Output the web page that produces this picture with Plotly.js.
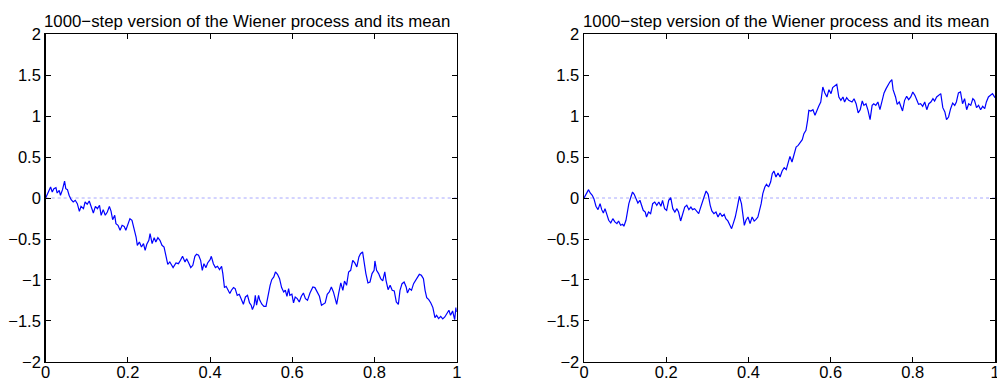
<!DOCTYPE html>
<html><head><meta charset="utf-8">
<script src="https://cdn.plot.ly/plotly-3.0.1.min.js"></script>
<style>html,body{margin:0;padding:0;background:#fff}#g{width:997px;height:380px}</style>
</head><body><div id="g"></div>
<script>
const titleText = "1000\u2212step version of the Wiener process and its mean";
const meanT = [0, 1];
const meanV = [0, 0];
const xTicks = [0, 0.2, 0.4, 0.6, 0.8, 1];
const yTicks = [-2, -1.5, -1, -0.5, 0, 0.5, 1, 1.5, 2];

const leftT = [0,0.006,0.012,0.016,0.020,0.025,0.028,0.033,0.036,0.041,0.046,0.049,0.053,0.057,0.062,0.067,0.072,0.077,0.082,0.086,0.092,0.096,0.101,0.106,0.111,0.116,0.121,0.126,0.131,0.135,0.140,0.145,0.150,0.155,0.159,0.163,0.168,0.171,0.176,0.181,0.186,0.191,0.195,0.200,0.205,0.210,0.215,0.220,0.223,0.228,0.233,0.238,0.242,0.246,0.251,0.254,0.259,0.264,0.268,0.273,0.278,0.283,0.288,0.293,0.297,
0.302,0.310,0.317,0.323,0.328,0.333,0.339,0.343,0.348,0.353,0.358,0.363,0.367,0.372,0.377,0.381,0.385,0.390,0.394,0.400,0.403,0.408,0.413,0.418,0.423,0.428,0.431,0.435,0.439,0.444,0.448,0.452,0.457,0.461,0.466,0.471,0.476,0.481,0.486,0.491,0.496,0.500,0.503,0.507,0.510,0.513,0.518,0.521,0.526,0.531,0.536,0.541,0.546,0.550,0.555,0.559,0.564,0.569,0.574,0.579,0.583,0.587,0.591,0.594,0.599,0.603,0.607,0.612,0.617,0.622,0.627,0.632,0.637,
0.643,0.650,0.655,0.661,0.666,0.671,0.676,0.680,0.685,0.690,0.695,0.700,0.705,0.708,0.713,0.718,0.723,0.727,0.732,0.737,0.742,0.747,0.752,0.757,0.762,0.766,0.771,0.775,0.779,0.784,0.789,0.794,0.799,0.801,0.805,0.810,0.815,0.820,0.825,0.828,0.833,0.838,0.843,0.848,0.853,0.858,0.862,0.867,0.872,0.877,0.880,0.885,0.890,0.895,0.900,0.904,0.909,0.914,0.919,0.923,0.927,0.932,0.937,0.942,0.947,0.951,0.956,0.961,0.966,0.971,0.976,0.981,0.985,0.990,0.995,0.998,1.0];
const leftV = [0,0.061,0.134,0.073,0.114,0.126,0.061,0.094,0.033,0.102,0.207,0.114,0.102,0.033,-0.020,-0.048,-0.028,-0.069,-0.163,-0.102,-0.130,-0.048,-0.077,-0.036,-0.118,-0.183,-0.102,-0.130,-0.089,-0.211,-0.142,-0.211,-0.171,-0.102,-0.159,-0.264,-0.211,-0.313,-0.333,-0.394,-0.333,-0.346,-0.394,-0.313,-0.252,-0.272,-0.374,-0.476,-0.577,-0.537,-0.598,-0.557,-0.638,-0.565,-0.516,-0.435,-0.557,-0.484,-0.537,-0.484,-0.516,-0.577,-0.598,-0.720,-0.809,
-0.780,-0.849,-0.792,-0.801,-0.760,-0.711,-0.780,-0.740,-0.792,-0.849,-0.821,-0.711,-0.687,-0.699,-0.760,-0.882,-0.801,-0.849,-0.792,-0.752,-0.711,-0.801,-0.849,-0.833,-0.874,-0.833,-0.922,-1.093,-1.077,-1.125,-1.166,-1.125,-1.093,-1.105,-1.187,-1.174,-1.227,-1.296,-1.207,-1.187,-1.280,-1.308,-1.361,-1.308,-1.187,-1.308,-1.187,-1.248,-1.296,-1.321,-1.321,-1.166,-1.065,-0.996,-0.963,-0.902,-0.931,-0.984,-1.093,-1.146,-1.125,-1.199,-1.105,-1.187,-1.174,-1.280,-1.207,-1.227,-1.268,-1.199,-1.158,-1.227,-1.248,
-1.159,-1.085,-1.093,-1.146,-1.199,-1.309,-1.288,-1.280,-1.174,-1.146,-1.085,-1.146,-1.240,-1.297,-1.158,-1.036,-1.126,-1.012,-1.065,-0.902,-0.882,-0.760,-0.792,-0.841,-0.719,-0.679,-0.658,-0.801,-0.922,-1.036,-1.024,-0.922,-0.882,-0.768,-0.882,-0.922,-0.983,-1.012,-0.902,-1.004,-1.118,-1.065,-1.126,-1.134,-1.268,-1.297,-1.126,-1.045,-1.024,-1.085,-1.158,-1.105,-1.126,-1.045,-1.004,-0.971,-0.931,-0.943,-0.983,-1.126,-1.215,-1.240,-1.280,-1.337,-1.459,-1.431,-1.471,-1.443,-1.475,-1.451,-1.410,-1.369,-1.431,-1.378,-1.484,-1.337,-1.39];

const rightT = [0,0.0065,0.011,0.015,0.020,0.024,0.029,0.034,0.039,0.043,0.047,0.051,0.056,0.060,0.065,0.070,0.075,0.080,0.084,0.089,0.094,0.097,0.102,0.106,0.109,0.114,0.118,0.122,0.127,0.131,0.136,0.140,0.144,0.149,0.152,0.157,0.162,0.167,0.172,0.177,0.182,0.187,0.191,0.196,0.201,0.206,0.211,0.216,0.221,0.226,0.230,0.235,0.240,0.245,0.250,0.255,0.260,0.264,0.269,0.274,0.279,
0.282,0.287,0.292,0.297,0.302,0.307,0.311,0.316,0.321,0.326,0.331,0.336,0.341,0.345,0.350,0.355,0.359,0.363,0.368,0.373,0.378,0.383,0.386,0.390,0.394,0.399,0.404,0.409,0.414,0.418,0.423,0.428,0.431,0.435,0.440,0.444,0.449,0.454,0.458,0.462,0.467,0.472,0.477,0.482,0.487,0.492,0.496,0.501,0.506,0.511,0.516,0.521,0.526,0.531,0.535,0.540,0.544,0.547,0.552,0.557,0.562,0.567,0.571,0.576,0.581,0.586,0.591,0.596,0.601,0.605,0.610,0.615,0.620,0.625,0.630,0.634,0.639,0.644,
0.652,0.657,0.662,0.667,0.672,0.677,0.681,0.686,0.691,0.696,0.701,0.705,0.710,0.715,0.720,0.725,0.730,0.735,0.740,0.744,0.749,0.752,0.758,0.762,0.767,0.772,0.775,0.780,0.785,0.790,0.795,0.800,0.805,0.810,0.814,0.819,0.824,0.829,0.834,0.839,0.844,0.849,0.853,0.858,0.863,0.868,0.873,0.878,0.882,0.887,0.892,0.897,0.902,0.906,0.911,0.916,0.921,0.926,0.931,0.936,0.941,0.946,0.950,0.955,0.960,0.965,0.970,0.975,0.979,0.984,0.989,0.994,1.0];
const rightV = [0,0.061,0.102,0.061,0.033,-0.008,-0.101,-0.142,-0.069,-0.142,-0.183,-0.130,-0.211,-0.272,-0.304,-0.252,-0.292,-0.313,-0.280,-0.333,-0.321,-0.345,-0.272,-0.142,-0.069,0.012,0.073,0.045,-0.028,-0.061,-0.028,-0.089,-0.150,-0.171,-0.232,-0.171,-0.191,-0.069,-0.049,-0.089,-0.049,-0.101,-0.028,-0.130,-0.150,-0.028,0.004,-0.130,-0.171,-0.130,-0.171,-0.280,-0.191,-0.110,-0.089,-0.142,-0.110,-0.142,-0.130,-0.159,-0.191,
-0.142,-0.077,0.012,0.085,0.045,-0.089,-0.158,-0.191,-0.171,-0.232,-0.183,-0.224,-0.199,-0.252,-0.280,-0.333,-0.374,-0.313,-0.232,-0.110,0.020,-0.069,-0.191,-0.333,-0.272,-0.232,-0.313,-0.232,-0.280,-0.264,-0.232,-0.130,-0.069,0.053,0.134,0.167,0.134,0.195,0.297,0.329,0.256,0.305,0.256,0.329,0.370,0.346,0.419,0.508,0.439,0.541,0.622,0.642,0.683,0.711,0.785,0.825,0.947,1.069,1.061,1.077,1.008,1.077,1.118,1.171,1.354,1.281,1.232,1.321,1.273,1.346,1.362,1.386,1.232,1.191,1.232,1.171,1.224,1.191,
1.171,1.211,1.150,1.037,1.077,1.183,1.130,1.150,1.069,0.955,1.130,1.150,1.130,1.171,1.077,1.200,1.281,1.334,1.386,1.415,1.443,1.321,1.232,1.142,1.171,1.089,1.061,1.191,1.240,1.200,1.232,1.293,1.252,1.191,1.142,1.150,1.118,1.171,1.077,1.150,1.171,1.211,1.183,1.232,1.252,1.273,1.102,1.049,0.955,0.988,1.089,1.158,1.130,1.171,1.281,1.293,1.150,1.211,1.077,1.150,1.130,1.211,1.191,1.102,1.130,1.077,1.118,1.089,1.171,1.232,1.252,1.273,1.224];

const FONT = "Liberation Sans, Arial, Helvetica, sans-serif";
const TICK_SIZE = 16.5;
const TITLE_SIZE = 16.8;
const lineStyle = {color: "#0000ff", width: 1.2};
const meanStyle = {color: "#a8a8ff", width: 1, dash: "dot"};

const traces = [
  {x: meanT, y: meanV, xaxis: "x", yaxis: "y", mode: "lines", line: meanStyle, hoverinfo: "skip"},
  {x: leftT, y: leftV, xaxis: "x", yaxis: "y", mode: "lines", line: lineStyle},
  {x: meanT, y: meanV, xaxis: "x2", yaxis: "y2", mode: "lines", line: meanStyle, hoverinfo: "skip"},
  {x: rightT, y: rightV, xaxis: "x2", yaxis: "y2", mode: "lines", line: lineStyle}
];

function xax(domain, anchor) {
  return {domain: domain, anchor: anchor, range: [0, 1], tickvals: xTicks, ticks: "inside", ticklen: 5,
    tickcolor: "#000", showline: true, linecolor: "#000", linewidth: 1.5, mirror: "ticks",
    ticklabeloverflow: "allow", ticklabelstandoff: -5,
    showgrid: false, zeroline: false, tickfont: {family: FONT, size: TICK_SIZE, color: "#000"}, fixedrange: true};
}
function yax(anchor) {
  return {domain: [0.0474, 0.9105], anchor: anchor, range: [-2, 2], tickvals: yTicks, ticks: "inside", ticklen: 5,
    tickcolor: "#000", showline: true, linecolor: "#000", linewidth: 1.5, mirror: "ticks",
    ticklabeloverflow: "allow",
    showgrid: false, zeroline: false, tickfont: {family: FONT, size: TICK_SIZE, color: "#000"}, fixedrange: true};
}

const layout = {
  width: 997, height: 380, margin: {l: 0, r: 0, t: 0, b: 0},
  paper_bgcolor: "#fff", plot_bgcolor: "#fff", showlegend: false,
  font: {family: FONT, size: TICK_SIZE, color: "#000"},
  xaxis: xax([0.0458, 0.4581], "y"),
  yaxis: yax("x"),
  xaxis2: xax([0.5858, 0.998], "y2"),
  yaxis2: yax("x2"),
  annotations: [
    {text: titleText, xref: "paper", yref: "paper", x: (0.0458 + 0.4581) / 2, y: 0.9105, xanchor: "center", yanchor: "bottom", xshift: -4, yshift: 1, showarrow: false, font: {family: FONT, size: TITLE_SIZE, color: "#000"}},
    {text: titleText, xref: "paper", yref: "paper", x: (0.5858 + 0.998) / 2, y: 0.9105, xanchor: "center", yanchor: "bottom", xshift: -4, yshift: 1, showarrow: false, font: {family: FONT, size: TITLE_SIZE, color: "#000"}}
  ]
};

Plotly.newPlot("g", traces, layout, {staticPlot: true, displayModeBar: false});
</script></body></html>
